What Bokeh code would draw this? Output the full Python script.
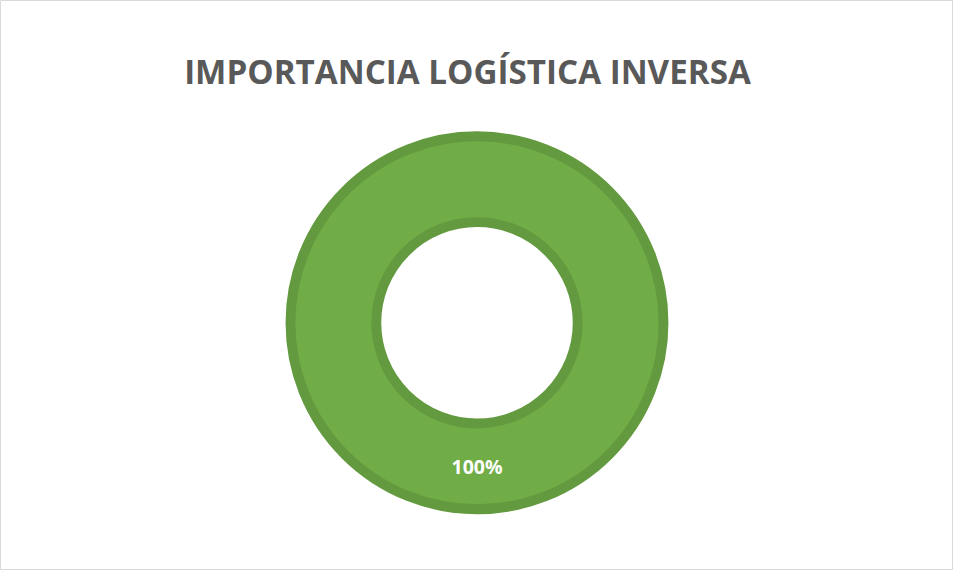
import numpy as np
from bokeh.plotting import figure
from bokeh.models import Label, ColumnDataSource
from bokeh.core.properties import value
from bokeh.embed import file_html
from bokeh.resources import INLINE

# ---- data ----
title_text = "IMPORTANCIA LOGÍSTICA INVERSA"
categories = ["Importancia"]
values = [100]

W, H = 953, 570
cx_px, cy_px = 476.5, 322.3  # ring centre inside figure (from top-left)

p = figure(width=W, height=H, output_backend="svg", toolbar_location=None,
           x_range=(-cx_px, W - cx_px), y_range=(-(H - cy_px), cy_px),
           min_border=0)
p.axis.visible = False
p.grid.visible = False
p.outline_line_color = "#D9D9D9"
p.outline_line_width = 1
p.background_fill_color = "white"
p.border_fill_color = "white"

total = sum(values)
fracs = np.array(values) / total
ends = np.pi / 2 - np.cumsum(fracs) * 2 * np.pi
starts = np.concatenate([[np.pi / 2], ends[:-1]])
mids = (starts + ends) / 2

r_in, r_out = 100.7, 186.5
src = ColumnDataSource(dict(cat=categories, start=starts, end=ends,
                            pct=[f"{v / total * 100:.0f}%" for v in values],
                            lx=np.cos(mids) * (r_in + r_out) / 2,
                            ly=np.sin(mids) * (r_in + r_out) / 2))

p.annular_wedge(x=0, y=0, inner_radius=r_in, outer_radius=r_out,
                inner_radius_units="screen", outer_radius_units="screen",
                start_angle="end", end_angle="start", direction="anticlock",
                fill_color="#70AD47", line_color=None, source=src)
for r in (r_in, r_out):
    p.circle(x=0, y=0, radius=r, radius_units="screen", fill_color=None,
             line_color="#639A3F", line_width=9.9)

p.text(x="lx", y="ly", text="pct", source=src, text_color="white",
       text_font=value("Open Sans"), text_font_style="bold",
       text_font_size="19.5px", text_align="center", text_baseline="middle")

p.add_layout(Label(x=467, y=H - 71.0, x_units="screen", y_units="screen",
                   text=title_text, text_font="Open Sans", text_font_style="bold",
                   text_font_size="33.2px", text_color="#595959",
                   text_align="center", text_baseline="middle"))

open("out.html", "w").write(file_html(p, INLINE))
